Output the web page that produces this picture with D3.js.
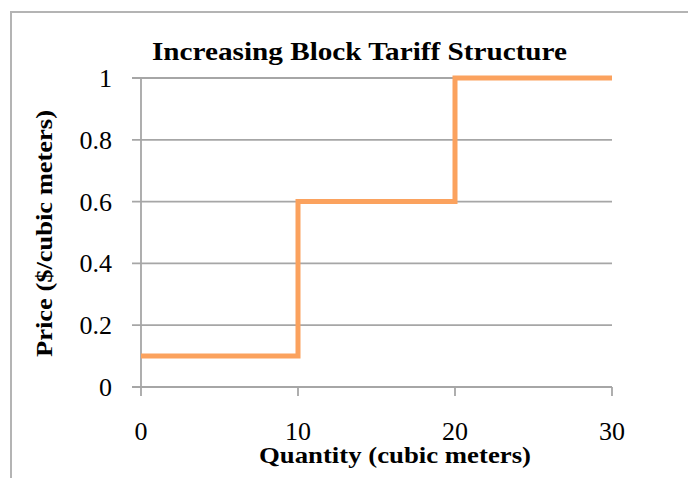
<!DOCTYPE html>
<html lang="en">
<head>
  <meta charset="UTF-8">
  <title>Increasing Block Tariff Structure</title>
  <script src="https://d3js.org/d3.v7.min.js"></script>
  <style>
    body { margin: 0; background: white; }
    svg text { font-family: "Liberation Serif", "DejaVu Serif", serif; fill: #000; }
  </style>
</head>
<body>
  <svg width="688" height="478"></svg>

  <script>
    // step points: price applies from each quantity to the next
    const quantity = [0, 10, 20, 30];
    const price = [0.1, 0.6, 1.0, 1.0];
    const xTicks = [0, 10, 20, 30];
    const yTicks = [0, 0.2, 0.4, 0.6, 0.8, 1];

    const svg = d3.select("svg");
    const gridColor = "#a6a6a6";

    // outer frame (only top and left edges visible)
    svg.append("path")
      .attr("d", "M11,478 V12 H688")
      .attr("fill", "none")
      .attr("stroke", "#b4b4b4")
      .attr("stroke-width", 2);

    const x = d3.scaleLinear().domain([0, 30]).range([141, 612]);
    const y = d3.scaleLinear().domain([0, 1]).range([387, 78]);

    // horizontal gridlines + y ticks
    svg.append("g")
      .selectAll("line")
      .data(yTicks)
      .join("line")
      .attr("x1", x(0) - 9)
      .attr("x2", x(30))
      .attr("y1", d => y(d))
      .attr("y2", d => y(d))
      .attr("stroke", gridColor)
      .attr("stroke-width", 1.8);

    // y axis line
    svg.append("line")
      .attr("x1", x(0)).attr("x2", x(0))
      .attr("y1", y(1)).attr("y2", y(0))
      .attr("stroke", gridColor)
      .attr("stroke-width", 1.8);

    // x ticks
    svg.append("g")
      .selectAll("line")
      .data(xTicks)
      .join("line")
      .attr("x1", d => x(d))
      .attr("x2", d => x(d))
      .attr("y1", y(0))
      .attr("y2", y(0) + 9)
      .attr("stroke", gridColor)
      .attr("stroke-width", 1.8);

    // tick labels
    svg.append("g")
      .selectAll("text")
      .data(yTicks)
      .join("text")
      .attr("x", 112)
      .attr("y", d => y(d) + 9)
      .attr("text-anchor", "end")
      .attr("font-size", 26)
      .text(d => d3.format("")(d));

    svg.append("g")
      .selectAll("text")
      .data(xTicks)
      .join("text")
      .attr("x", d => x(d))
      .attr("y", 440)
      .attr("text-anchor", "middle")
      .attr("font-size", 26)
      .text(d => d);

    // step line
    const line = d3.line()
      .x((d, i) => x(quantity[i]))
      .y(d => y(d))
      .curve(d3.curveStepAfter);

    svg.append("path")
      .datum(price)
      .attr("fill", "none")
      .attr("stroke", "#fba25e")
      .attr("stroke-width", 5)
      .attr("stroke-linejoin", "miter")
      .attr("d", line);

    // titles (reference font is a condensed serif, so fit widths)
    svg.append("text")
      .attr("x", 152)
      .attr("y", 60)
      .attr("font-size", 26)
      .attr("font-weight", "bold")
      .attr("textLength", 415)
      .attr("lengthAdjust", "spacingAndGlyphs")
      .text("Increasing Block Tariff Structure");

    svg.append("text")
      .attr("x", 259)
      .attr("y", 463)
      .attr("font-size", 23)
      .attr("font-weight", "bold")
      .attr("textLength", 272)
      .attr("lengthAdjust", "spacingAndGlyphs")
      .text("Quantity (cubic meters)");

    svg.append("text")
      .attr("transform", "translate(52,357) rotate(-90)")
      .attr("font-size", 23)
      .attr("font-weight", "bold")
      .attr("textLength", 247)
      .attr("lengthAdjust", "spacingAndGlyphs")
      .text("Price ($/cubic meters)");
  </script>
</body>
</html>
